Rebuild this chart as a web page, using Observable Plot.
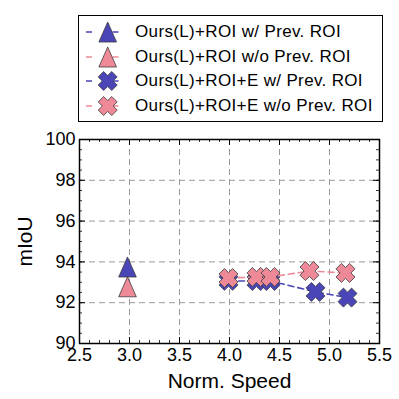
<!DOCTYPE html>
<html>
<head>
<meta charset="utf-8">
<script src="https://cdn.jsdelivr.net/npm/d3@7"></script>
<script src="https://cdn.jsdelivr.net/npm/@observablehq/plot@0.6"></script>
<style>
  html, body { margin: 0; padding: 0; background: #fff; }
  #wrap { position: relative; width: 399px; height: 399px; font-family: "Liberation Sans", Arial, sans-serif; }
  #legend { position: absolute; left: 78px; top: 15px; width: 305px; height: 107px; border: 1.5px solid #000; background: #fff; box-sizing: border-box; }
  .row { position: absolute; left: 0; height: 24px; display: flex; align-items: center; }
  .row svg { display: block; }
  .row span { font-size: 17px; letter-spacing: 0.35px; color: #000; margin-left: 10px; white-space: nowrap; }
  #chart { position: absolute; left: 0; top: 128px; }
</style>
</head>
<body>
<div id="wrap">
  <div id="legend"></div>
  <div id="chart"></div>
</div>
<script>
// ---- data ----
const seriesNames = [
  "Ours(L)+ROI w/ Prev. ROI",
  "Ours(L)+ROI w/o Prev. ROI",
  "Ours(L)+ROI+E w/ Prev. ROI",
  "Ours(L)+ROI+E w/o Prev. ROI"
];
const roiPrevX = [2.98];
const roiPrevY = [93.75];
const roiNoPrevX = [2.98];
const roiNoPrevY = [92.78];
const roiEPrevX = [3.99, 4.27, 4.41, 4.86, 5.18];
const roiEPrevY = [93.07, 93.06, 93.06, 92.53, 92.25];
const roiENoPrevX = [3.99, 4.27, 4.41, 4.80, 5.16];
const roiENoPrevY = [93.21, 93.26, 93.26, 93.55, 93.46];
const xTicks = [2.5, 3.0, 3.5, 4.0, 4.5, 5.0, 5.5];
const yTicks = [90, 92, 94, 96, 98, 100];
const xMinor = d3.range(25, 56).map(d => d / 10);
const yMinor = d3.range(180, 201).map(d => d / 2);

// ---- styles ----
const BLUE = "#4b46b8";
const PINK = "#ee8a98";
const EDGE = "#3a3a3a";

const triPts = r => [[0, -r], [-0.88 * r, r], [0.88 * r, r]];
const xPts = r => {
  const a = r * Math.SQRT2 / 1.4, w = 0.4 * a;
  const p = [[-w,-a],[w,-a],[w,-w],[a,-w],[a,w],[w,w],[w,a],[-w,a],[-w,w],[-a,w],[-a,-w],[-w,-w]];
  return p.map(([x, y]) => [(x - y) / Math.SQRT2, (x + y) / Math.SQRT2]);
};
const makeSym = f => ({
  draw(ctx, size) {
    const r = Math.sqrt(size / Math.PI);
    const p = f(r);
    ctx.moveTo(p[0][0], p[0][1]);
    for (let i = 1; i < p.length; i++) ctx.lineTo(p[i][0], p[i][1]);
    ctx.closePath();
  }
});
const triSym = makeSym(triPts);
const xSym = makeSym(xPts);

const toRows = (xs, ys) => xs.map((x, i) => ({x, y: ys[i]}));

const W = 399, H = 271, mT = 11, mB = 56, mL = 79, mR = 20;
const innerH = H - mT - mB;
const innerW = W - mL - mR;

const series = [
  {rows: toRows(roiPrevX, roiPrevY), color: BLUE, sym: triSym, r: 10},
  {rows: toRows(roiNoPrevX, roiNoPrevY), color: PINK, sym: triSym, r: 10},
  {rows: toRows(roiEPrevX, roiEPrevY), color: BLUE, sym: xSym, r: 9.5},
  {rows: toRows(roiENoPrevX, roiENoPrevY), color: PINK, sym: xSym, r: 9.5}
];

const marks = [
  Plot.ruleX(xTicks.slice(1, -1), {stroke: "#9a9a9a", strokeWidth: 1, strokeDasharray: "6,4"}),
  Plot.ruleY(yTicks.slice(1, -1), {stroke: "#9a9a9a", strokeWidth: 1, strokeDasharray: "6,4"}),
  // inward ticks
  Plot.tickX(xTicks, {x: d => d, insetTop: innerH - 6, stroke: "#000", strokeWidth: 1}),
  Plot.tickX(xTicks, {x: d => d, insetBottom: innerH - 6, stroke: "#000", strokeWidth: 1}),
  Plot.tickX(xMinor, {x: d => d, insetTop: innerH - 3, stroke: "#000", strokeWidth: 0.8}),
  Plot.tickX(xMinor, {x: d => d, insetBottom: innerH - 3, stroke: "#000", strokeWidth: 0.8}),
  Plot.tickY(yTicks, {y: d => d, insetRight: innerW - 6, stroke: "#000", strokeWidth: 1}),
  Plot.tickY(yTicks, {y: d => d, insetLeft: innerW - 6, stroke: "#000", strokeWidth: 1}),
  Plot.tickY(yMinor, {y: d => d, insetRight: innerW - 3, stroke: "#000", strokeWidth: 0.8}),
  Plot.tickY(yMinor, {y: d => d, insetLeft: innerW - 3, stroke: "#000", strokeWidth: 0.8}),
  Plot.axisX(xTicks, {tickSize: 0, tickPadding: 5, tickFormat: d3.format(".1f"), fontSize: 18, label: null, fill: "#000"}),
  Plot.axisY(yTicks, {tickSize: 0, tickPadding: 4, tickFormat: d3.format("d"), fontSize: 18, label: null, fill: "#000"}),
  Plot.axisX([], {label: "Norm. Speed", labelAnchor: "center", labelArrow: "none", labelOffset: 44, fontSize: 21, tickSize: 0}),
  Plot.axisY([], {label: "mIoU", labelAnchor: "center", labelArrow: "none", labelOffset: 62, fontSize: 21, tickSize: 0}),
  Plot.frame({stroke: "#000", strokeWidth: 1.5})
];
for (const s of series) {
  if (s.rows.length > 1) marks.push(Plot.line(s.rows, {x: "x", y: "y", stroke: s.color, strokeWidth: 1.6, strokeDasharray: "6,4"}));
  marks.push(Plot.dot(s.rows, {x: "x", y: "y", symbol: s.sym, r: s.r, fill: s.color, stroke: EDGE, strokeWidth: 0.8}));
}

const chart = Plot.plot({
  width: W, height: H,
  marginTop: mT, marginBottom: mB, marginLeft: mL, marginRight: mR,
  style: {fontFamily: "'Liberation Sans', Arial, sans-serif", background: "#fff", color: "#000"},
  x: {domain: [2.5, 5.5], axis: null},
  y: {domain: [90, 100], axis: null},
  marks
});
document.getElementById("chart").appendChild(chart);

// ---- legend ----
const legend = document.getElementById("legend");
const legendSyms = [triPts(10), triPts(10), xPts(9.5), xPts(9.5)];
const legendColors = [BLUE, PINK, BLUE, PINK];
seriesNames.forEach((name, i) => {
  const row = document.createElement("div");
  row.className = "row";
  row.style.top = (4 + i * 24.5) + "px";
  row.style.left = "6px";
  const pts = legendSyms[i].map(([x, y]) => `${(x + 22.7).toFixed(2)},${(y + 12).toFixed(2)}`).join(" ");
  row.innerHTML = `<svg width="40" height="24"><line x1="1" y1="12" x2="34" y2="12" stroke="${legendColors[i]}" stroke-width="1.6" stroke-dasharray="6,20.5"/><polygon points="${pts}" fill="${legendColors[i]}" stroke="${EDGE}" stroke-width="0.8"/></svg><span>${name}</span>`;
  legend.appendChild(row);
});
</script>
</body>
</html>
